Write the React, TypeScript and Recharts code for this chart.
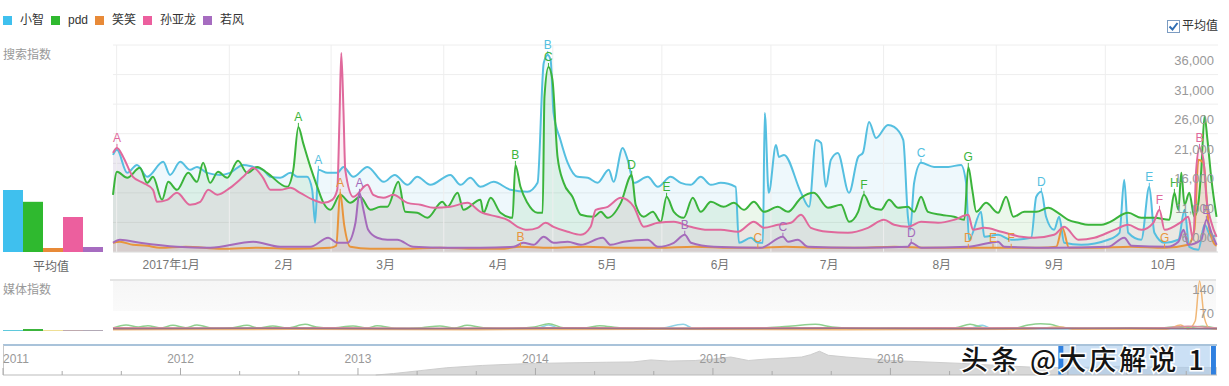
import React from "react";
import {
  ComposedChart,
  BarChart,
  Bar,
  Cell,
  Area,
  Line,
  XAxis,
  YAxis,
  CartesianGrid,
  ReferenceLine,
  ReferenceArea,
} from "recharts";

const FONT = "'Liberation Sans', Arial, 'Noto Sans CJK SC', sans-serif";

type Pt = [number, number, string?];

// day 0 = 2016-12-16
const seriesNames = ["小智", "pdd", "笑笑", "孙亚龙", "若风"];
const legendColors = ["#3fc0ee", "#2fb92f", "#e88a38", "#ec5f9e", "#a66cc0"];
const lineColors = ["#55bfe0", "#3bb43b", "#e8953d", "#e0699c", "#a56bbb"];

const monthDays = [16, 47, 75, 106, 136, 167, 197, 228, 259, 289];
const monthLabels = ["2017年1月", "2月", "3月", "4月", "5月", "6月", "7月", "8月", "9月", "10月"];
const gridDays = [1, 32, 60, 91, 121, 151, 181, 212, 243, 273];
const searchTicks = [6000, 11000, 16000, 21000, 26000, 31000, 36000];

const xiaozhi: Pt[] = [
  [0, 17420], [1.1, 18270], [3.9, 14380], [6.6, 15730], [9.4, 13710], [13.8, 16240], [15.7, 14040],
  [18.5, 16240], [21.2, 14890], [23.1, 15390], [25.9, 14380], [29.5, 14040], [32.2, 14380], [35.8, 15730],
  [38.6, 15390], [41.3, 14890], [43.3, 13710], [46, 13540], [48.8, 14380], [50.7, 13710], [53.4, 13710],
  [54.8, 11510], [55.6, 5940], [56.5, 14890, "A"], [59, 14380], [61.7, 14380], [63.4, 15390], [66.1, 13710],
  [70, 15390], [74.5, 12860], [77.5, 14040], [81, 12350], [83.7, 13710], [87.3, 12350], [92.8, 14040],
  [95.6, 12350], [98.3, 13540], [101.1, 12020], [104.7, 12860], [109.4, 11510], [114, 11170], [116.8, 12690],
  [118.5, 32960], [119.6, 34310, "B"], [120.4, 33470], [121.2, 24510], [123.1, 19950], [125.1, 16070],
  [127.8, 13710], [130.6, 13540], [133.3, 12690], [136.4, 14890], [137.7, 12860], [140.2, 18600],
  [141.6, 16580], [143.3, 12690], [147.1, 13710], [149.9, 12020], [153.4, 13710], [156.2, 12690],
  [158.9, 12350], [161.7, 13710], [164.5, 12350], [167.2, 12690], [171.3, 12020], [172.2, 2560],
  [175.5, 3400], [177.4, 2560], [178.8, 2560], [179.3, 24510], [180.4, 11000], [182.4, 19110],
  [183.2, 17080], [184.6, 17420], [189.3, 11000], [191.5, 8640], [193.4, 19950], [194.8, 19450],
  [196.1, 12020], [197.5, 16580], [199.4, 17760], [202.5, 11000], [205, 17080], [206.3, 17760],
  [208, 23000], [209.9, 20290], [213.2, 22490], [214.9, 22150], [217.4, 19950], [218.7, 6950],
  [219.3, 4750], [220.4, 12690], [222.3, 16070, "C"], [225.9, 15390], [229.8, 15390], [233.3, 15730],
  [234.7, 12690], [235.5, 3070], [238.8, 7790], [239.7, 3570], [243.5, 3910], [247.1, 3070], [252.6, 3400],
  [254, 10330], [255.4, 11170, "D"], [256.7, 6950], [258.9, 4750], [260.3, 6950], [261.7, 2560],
  [266.4, 2220], [273.8, 3070], [276.9, 4250], [278.2, 13200], [279.3, 4250], [282.9, 3070],
  [285.1, 12020, "E"], [286.5, 4250], [289.3, 2560], [293.1, 3070], [294.8, 8130], [296.1, 1880],
  [298.6, 1380], [300.3, 5600], [302.2, 3570], [303.6, 3910],
];

const pdd: Pt[] = [
  [0, 10670], [1.1, 14550], [3.9, 13540], [7.4, 15230], [9.4, 12690], [11, 13710], [13.5, 9820],
  [15.2, 12860], [17.6, 11510], [20.7, 14380], [23.1, 12860], [24.8, 16070], [26.7, 12690], [28.9, 14550],
  [31.4, 13540], [34.4, 16410], [36.9, 14380], [39.7, 15390], [42.4, 14380], [47.9, 12020], [49.6, 14890],
  [51, 22150, "A"], [52.3, 19450], [54.3, 15390], [56.2, 12020], [57.9, 9310], [59.8, 8130], [62.5, 10670],
  [65.3, 9310], [68, 10330], [70.8, 8130], [73.6, 8640], [75.5, 8640], [78.5, 12860], [80.4, 7790],
  [83.7, 7620], [86.5, 6780], [90.6, 9480], [92, 8640], [94.8, 11000], [96.4, 8130], [101.1, 9820],
  [101.9, 7620], [103.9, 10160], [106.6, 7620], [109.9, 6780], [110.7, 15730, "B"], [112.1, 12020],
  [114, 9310], [116.8, 7620], [118.2, 7620], [118.7, 27220], [119.8, 32280, "C"], [120.9, 30090],
  [122.3, 17080], [124, 12690], [126.4, 10330], [128.7, 7290], [132.2, 6950], [134.2, 7790], [136.1, 6780],
  [139.7, 9310], [142.7, 14040, "D"], [143.8, 8980], [146, 6950], [148.5, 7790], [150.7, 6100],
  [152.3, 10330, "E"], [154.3, 7790], [157, 6780], [159.5, 10160], [161.7, 7790], [164.5, 9480],
  [168, 8640], [170.8, 9310], [173.6, 8130], [176.3, 9480], [179.1, 7790], [182.9, 8640], [185.7, 7790],
  [189.3, 10160], [192.8, 11000], [196.7, 8470], [200.3, 8980], [202.5, 6100], [205, 7790],
  [206.6, 10670, "F"], [208.5, 8640], [211.3, 8130], [213.5, 9820], [216, 8470], [218.7, 8640],
  [220.4, 7790], [222.3, 10330], [224.2, 7790], [227.8, 7290], [231.4, 6950], [234.2, 6440],
  [235.3, 15390, "G"], [236.4, 11510], [237.5, 7790], [240.2, 9310], [243.5, 7620], [245.7, 10330],
  [247.7, 6950], [250.7, 7790], [254, 7790], [257.3, 8470], [260, 7620], [262.8, 6440], [265.6, 5940],
  [268.3, 5600], [271.9, 5600], [273.8, 5940], [279.3, 7620], [282.9, 6780], [286.5, 6780], [290.6, 6440],
  [292, 11000, "H"], [293.1, 8130], [293.9, 14380], [294.8, 8980], [296.1, 11000], [297.5, 6950],
  [298.6, 9310], [299.4, 14890], [300.3, 24000], [301.1, 19950], [302.2, 13200], [303.6, 6950],
];

const xiaoxiao: Pt[] = [
  [0, 2560], [1.9, 2730], [5.5, 2220], [9.4, 2050], [12.9, 1710], [20, 1880], [30, 1540], [40, 1710],
  [50, 1540], [59.8, 1710], [61.4, 2050], [62.5, 11000, "A"], [63.6, 5600], [65.3, 1880], [70.8, 1540],
  [80, 1540], [90, 1710], [100, 1540], [106.6, 1540], [112.1, 1880, "B"], [120, 1710], [130, 1880],
  [140, 1710], [150, 1710], [160, 1880], [170, 1710], [177.4, 1710, "C"], [185, 1880], [195, 1710],
  [205, 1710], [215, 1880], [225, 1710], [235.3, 1710, "D"], [242.1, 1710, "E"], [247.1, 1710, "F"],
  [255, 1710], [259.5, 1880], [261.2, 5090], [263, 1710], [270, 1710], [280, 1880], [289.3, 1710, "G"],
  [295.8, 2220], [297.5, 4750], [298.6, 16580], [300, 16070], [301.4, 5940], [302.8, 2560], [303.6, 2050],
];

const sunyalong: Pt[] = [
  [0, 17760], [1.1, 18600, "A"], [2.8, 17080], [5.5, 13710], [8.3, 12690], [11, 11510], [12.1, 9480],
  [14.9, 9820], [17.6, 11000], [21.2, 8980], [24, 9480], [26.2, 11510], [28.7, 10670], [32.2, 11850],
  [35.8, 13710], [38.6, 15230], [41.3, 13540], [43.3, 11510], [46, 11510], [48.8, 11850], [51.5, 11000],
  [55.1, 9820], [57.9, 9310], [60.3, 9820], [61.7, 11510], [62.3, 23330], [62.8, 34650], [63.4, 25020],
  [63.9, 14890], [66.1, 10330], [70, 12350], [71.6, 10670], [74.4, 10160], [77.1, 10670], [81, 9310],
  [84.6, 8980], [88.2, 8470], [92.8, 8640], [97.5, 9310], [101.1, 7790], [105.8, 6950], [108.5, 6440],
  [111.3, 5260], [114, 4750], [116.8, 5090], [119, 5940], [121.2, 5260], [125.1, 4420], [128.7, 3910],
  [131.4, 5260], [132.8, 8130], [136.1, 8640], [139.7, 10160], [143.3, 8640], [146, 5260], [149.9, 5940],
  [154.3, 6100], [158.9, 5260], [163.6, 4750], [167.2, 4750], [171.9, 4420], [176.3, 6100], [179.1, 5090],
  [182.9, 5600], [186.5, 5940], [189.3, 7290], [192, 5090], [196.7, 4420], [202.2, 4250], [207.7, 5090],
  [212.1, 6440], [214.9, 5600], [218.7, 5260], [222.3, 6100], [227, 5940], [231.4, 6440], [235.3, 7290],
  [236.6, 4750], [239.7, 5090], [244.4, 4420], [249.9, 3570], [253.4, 3400], [258.9, 3910], [261.7, 5260],
  [265.6, 3070], [270, 3400], [275.5, 4750], [279.3, 5600], [282.9, 4750], [286.2, 5940], [287.9, 8130, "F"],
  [289.3, 4750], [293.9, 6100], [295.8, 6950], [297.2, 3070], [298, 14890], [298.9, 18600, "B"],
  [300, 16580], [300.8, 10330], [302.2, 5940], [303.6, 3570],
];

const ruofeng: Pt[] = [
  [0, 2560], [1.9, 3070], [7.4, 2560], [17.6, 1880], [26.7, 1710], [38.6, 2730], [46, 1880], [54.3, 1880],
  [59.2, 3400], [61.7, 2560], [64.5, 2560], [66.7, 5940], [67.8, 11000, "A"], [68.9, 8130], [70.2, 4750],
  [72.7, 3400], [75.5, 3070], [78.2, 3070], [82.6, 1880], [92, 1710], [101.1, 1710], [110.2, 1880],
  [112.9, 2560], [115.7, 2220], [118.5, 3570], [121.2, 2560], [125.1, 2730], [128.7, 2220], [134.7, 3400],
  [136.9, 2220], [140.5, 2730], [147.1, 3070], [149.9, 1880], [154.3, 2560], [157.3, 3910, "B"], [159, 2560],
  [165.3, 1880], [178.2, 1710], [184.3, 3570, "C"], [185.7, 2730], [188.4, 3070], [191.2, 1880], [203.9, 1710],
  [218.7, 1880], [219.6, 2560, "D"], [222.3, 1710], [235.3, 1880], [243.5, 2730], [245.2, 1880], [258.9, 1710],
  [273.8, 1880], [278.2, 3400], [280.2, 2050], [290.1, 1880], [293.1, 2730], [294.5, 4750], [295.8, 2220],
  [299.4, 3070], [300.8, 6440, "E"], [302.2, 4250], [303.6, 2220],
];

const searchSeries = [xiaozhi, pdd, xiaoxiao, sunyalong, ruofeng];

// 平均值
const avgValues = [12000, 9700, 770, 6760, 970];
const mediaAvgValues = [3, 6, 2, 2, 2];
const mediaAvgColors = ["#5fc9dc", "#3cb43c", "#e8d060", "#a07f86", "#8c7f92"];

// 媒体指数
const mediaTicks = [70, 140];
const mediaXiaozhi: Pt[] = [
  [0, 6], [20, 7], [40, 9], [60, 6], [80, 8], [100, 6], [117, 9], [120, 18], [123, 8], [150, 7],
  [157, 20], [160, 7], [190, 6], [220, 7], [236, 9], [239.4, 17], [242, 7], [270, 6], [290, 7], [304, 6],
];
const mediaPdd: Pt[] = [
  [0, 9], [3.6, 18], [7, 12], [9.6, 16], [13, 9], [16.5, 17], [20, 10], [23.1, 18], [28, 8], [33, 10],
  [36.9, 17], [40, 9], [44, 15], [48, 9], [52.9, 20], [56, 12], [60, 9], [66.1, 15], [70, 9], [72.7, 16],
  [78, 8], [85, 10], [90, 15], [94, 9], [97.5, 17], [102, 10], [110, 8], [116, 12], [120, 22], [124, 10],
  [130, 9], [134, 16], [140, 9], [150, 8], [160, 9], [170, 8], [180, 10], [187, 15], [193.4, 20], [198, 12],
  [205, 8], [215, 9], [225, 8], [232, 10], [236, 20], [240, 10], [248, 8], [252, 18], [255.4, 22], [258, 20],
  [262, 10], [270, 8], [280, 9], [287, 8], [292, 12], [296, 10], [300, 14], [304, 8],
];
const mediaXiaoxiao: Pt[] = [
  [0, 4], [50, 5], [100, 4], [150, 5], [200, 4], [250, 5], [260.9, 12], [265, 5], [290, 5], [294, 18],
  [296, 6], [298, 30], [299.2, 150], [300.5, 40], [302, 8], [304, 5],
];
const mediaSunyalong: Pt[] = [
  [0, 10], [30, 9], [60, 10], [90, 8], [120, 10], [150, 9], [180, 10], [210, 9], [240, 10], [270, 9],
  [290, 10], [296, 14], [300, 12], [304, 9],
];
const mediaRuofeng: Pt[] = [
  [0, 7], [40, 8], [80, 7], [120, 8], [160, 7], [200, 8], [240, 7], [280, 8], [304, 7],
];
const mediaSeries = [mediaXiaozhi, mediaPdd, mediaXiaoxiao, mediaSunyalong, mediaRuofeng];
const mediaColors = ["#8fd3e6", "#8fd08f", "#f0b878", "#d8909f", "#9c7388"];

// 时间轴概览
const navYears = [2011, 2012, 2013, 2014, 2015, 2016, 2017];
const navYearLabels = ["2011", "2012", "2013", "2014", "2015", "2016", ""];
const navOverview: Pt[] = [
  [2013.1, 0], [2013.2, 5], [2013.35, 15], [2013.5, 25], [2013.7, 33], [2013.9, 38], [2014.0, 40],
  [2014.2, 42], [2014.4, 44], [2014.55, 45], [2014.65, 52], [2014.75, 48], [2014.9, 50], [2015.0, 55],
  [2015.1, 62], [2015.2, 50], [2015.3, 55], [2015.4, 58], [2015.5, 62], [2015.55, 70], [2015.6, 82],
  [2015.65, 68], [2015.75, 62], [2015.9, 55], [2016.0, 50], [2016.2, 45], [2016.4, 40], [2016.6, 33],
  [2016.8, 27], [2017.0, 25], [2017.3, 30], [2017.5, 27], [2017.84, 25],
];
const selStart = 2016.96;
const selEnd = 2017.8;

const toRows = (pts: Pt[]) => pts.map(([d, v, m]) => ({ d, v, m }));
const fmtNum = (v: number) => v.toLocaleString("en-US");

const navTicks = navYears.flatMap((y) => [y, y + 1 / 3, y + 2 / 3]).filter((t) => t <= 2017.84);

function markDot(color: string) {
  return (p: any) => {
    const { cx, cy, payload, index } = p;
    if (!payload || !payload.m || cx == null || cy == null) return <g key={index} />;
    return (
      <g key={index}>
        <line x1={cx} x2={cx} y1={cy} y2={cy - 4} stroke={color} strokeWidth={1} />
        <text x={cx} y={cy - 6} textAnchor="middle" fill={color} fontSize={12} fontFamily={FONT}>
          {payload.m}
        </text>
      </g>
    );
  };
}

function RightTick(p: any) {
  const { x, y, payload, off } = p;
  return (
    <text x={x} y={y + off} textAnchor="end" fill="#999" fontSize={13} fontFamily={FONT}>
      {fmtNum(payload.value)}
    </text>
  );
}

function NavTick(p: any) {
  const { x, y, payload } = p;
  const idx = navYears.findIndex((yy) => Math.abs(yy - payload.value) < 1e-6);
  const isYear = idx >= 0;
  return (
    <g>
      <line x1={x} x2={x} y1={y} y2={y - (isYear ? 7 : 4)} stroke="#aaa" />
      {isYear && navYearLabels[idx] && (
        <text x={x} y={y - 12} textAnchor={idx === 0 ? "start" : "middle"} fill="#999" fontSize={12} fontFamily={FONT}>
          {navYearLabels[idx]}
        </text>
      )}
    </g>
  );
}

const textStyle: React.CSSProperties = { position: "absolute", fontSize: 12, lineHeight: "14px", whiteSpace: "nowrap" };

export default function App() {
  const avgData = avgValues.map((v, i) => ({ name: seriesNames[i], v }));
  const mediaAvgData = mediaAvgValues.map((v, i) => ({ name: seriesNames[i], v }));

  return (
    <div style={{ position: "absolute", left: 0, top: 0, width: 1229, height: 386, background: "#fff", fontFamily: FONT, overflow: "hidden" }}>
      {/* legend */}
      <div style={{ position: "absolute", left: 3, top: 13, display: "flex", alignItems: "center", fontSize: 12, color: "#333" }}>
        {seriesNames.map((n, i) => (
          <div key={n} style={{ display: "flex", alignItems: "center", marginRight: 7 }}>
            <span style={{ width: 9, height: 9, background: legendColors[i], marginRight: 8, display: "inline-block" }} />
            <span style={{ lineHeight: "14px" }}>{n}</span>
          </div>
        ))}
      </div>

      {/* 平均值 checkbox */}
      <div style={{ position: "absolute", left: 1167, top: 19, display: "flex", alignItems: "center", fontSize: 12, color: "#333" }}>
        <svg width={13} height={13} style={{ marginRight: 2 }}>
          <rect x={0.5} y={0.5} width={12} height={12} fill="#fff" stroke="#7c9cc2" />
          <path d="M2.5 6.5 L5.5 9.5 L10.5 3" fill="none" stroke="#2f6db3" strokeWidth={2} />
        </svg>
        <span style={{ lineHeight: "14px" }}>平均值</span>
      </div>

      <div style={{ ...textStyle, left: 3, top: 48, color: "#999" }}>搜索指数</div>

      {/* average bars */}
      <div style={{ position: "absolute", left: 0, top: 0 }}>
        <BarChart width={106} height={252} data={avgData} margin={{ top: 45, right: 3, left: 3, bottom: 0 }} barCategoryGap={0}>
          <XAxis dataKey="name" hide />
          <YAxis hide domain={[0, 40000]} />
          <Bar dataKey="v" isAnimationActive={false}>
            {avgData.map((d, i) => (
              <Cell key={d.name} fill={legendColors[i]} />
            ))}
          </Bar>
        </BarChart>
      </div>
      <div style={{ ...textStyle, left: 33, top: 260, color: "#666" }}>平均值</div>

      {/* search index chart */}
      <div style={{ position: "absolute", left: 0, top: 0 }}>
        <ComposedChart width={1229} height={280} margin={{ top: 45, right: 11, left: 113, bottom: 0 }}>
          <CartesianGrid vertical={false} stroke="#eeeeee" />
          <XAxis
            type="number"
            dataKey="d"
            domain={[0, 304]}
            ticks={monthDays}
            interval={0}
            tickFormatter={(v) => monthLabels[monthDays.indexOf(v)] ?? ""}
            axisLine={{ stroke: "#e2e2e2" }}
            tickLine={false}
            tick={{ fontSize: 12, fill: "#777", fontFamily: FONT }}
            height={28}
          />
          <YAxis
            type="number"
            orientation="right"
            mirror
            width={1}
            domain={[1000, 36000]}
            ticks={searchTicks}
            interval={0}
            axisLine={false}
            tickLine={false}
            tickSize={0}
            tickMargin={4}
            tick={(p: any) => <RightTick {...p} off={20} />}
          />
          {gridDays.map((d) => (
            <ReferenceLine key={"g" + d} x={d} stroke="#eeeeee" />
          ))}
          {searchSeries.map((s, i) => (
            <Area
              key={"a" + i}
              data={toRows(s)}
              dataKey="v"
              type="monotone"
              fill={lineColors[i]}
              fillOpacity={0.1}
              stroke="none"
              isAnimationActive={false}
              activeDot={false}
            />
          ))}
          {searchSeries.map((s, i) => (
            <Line
              key={"l" + i}
              data={toRows(s)}
              dataKey="v"
              name={seriesNames[i]}
              type="monotone"
              stroke={lineColors[i]}
              strokeWidth={2}
              dot={markDot(lineColors[i])}
              activeDot={false}
              isAnimationActive={false}
            />
          ))}
        </ComposedChart>
      </div>

      {/* media index */}
      <div style={{ position: "absolute", left: 110, top: 279, width: 1106, height: 2, background: "#e4e4e4" }} />
      <div style={{ position: "absolute", left: 113, top: 281, width: 1103, height: 30, background: "linear-gradient(#f6f6f6, #fafafa)" }} />
      <div style={{ ...textStyle, left: 3, top: 283, color: "#999" }}>媒体指数</div>
      <div style={{ position: "absolute", left: 0, top: 276 }}>
        <BarChart width={106} height={55} data={mediaAvgData} margin={{ top: 5, right: 3, left: 3, bottom: 0 }} barCategoryGap={0}>
          <XAxis dataKey="name" hide />
          <YAxis hide domain={[0, 150]} />
          <Bar dataKey="v" isAnimationActive={false}>
            {mediaAvgData.map((d, i) => (
              <Cell key={d.name} fill={mediaAvgColors[i]} />
            ))}
          </Bar>
        </BarChart>
      </div>
      <div style={{ position: "absolute", left: 0, top: 276 }}>
        <ComposedChart width={1229} height={55} margin={{ top: 5, right: 12, left: 113, bottom: 0 }}>
          <XAxis type="number" dataKey="d" domain={[0, 304]} hide />
          <YAxis
            type="number"
            orientation="right"
            mirror
            width={1}
            domain={[0, 150]}
            ticks={mediaTicks}
            interval={0}
            axisLine={false}
            tickLine={false}
            tickSize={0}
            tickMargin={3}
            tick={(p: any) => <RightTick {...p} off={10} />}
          />
          {mediaSeries.map((s, i) => (
            <Line
              key={"m" + i}
              data={toRows(s)}
              dataKey="v"
              type="monotone"
              stroke={mediaColors[i]}
              strokeWidth={1.5}
              dot={false}
              activeDot={false}
              isAnimationActive={false}
            />
          ))}
        </ComposedChart>
      </div>

      {/* navigator */}
      <div style={{ position: "absolute", left: 3, top: 344, width: 1214, height: 2, background: "#a9c3da" }} />
      <div style={{ position: "absolute", left: 3, top: 345, width: 1, height: 30, background: "#c8c8c8" }} />
      <div style={{ position: "absolute", left: 0, top: 340 }}>
        <ComposedChart width={1229} height={36} margin={{ top: 6, right: 12, left: 3, bottom: 0 }}>
          <XAxis
            type="number"
            dataKey="d"
            domain={[2011, 2017.84]}
            allowDataOverflow
            ticks={navTicks}
            interval={0}
            height={1}
            tickSize={0}
            tickMargin={0}
            tickLine={false}
            axisLine={{ stroke: "#bbb" }}
            tick={(p: any) => <NavTick {...p} />}
          />
          <YAxis hide domain={[0, 100]} />
          <Area
            data={toRows(navOverview)}
            dataKey="v"
            type="linear"
            fill="#d8d8d8"
            fillOpacity={1}
            stroke="#cdcdcd"
            strokeWidth={1}
            isAnimationActive={false}
            activeDot={false}
          />
          <ReferenceArea x1={selStart} x2={selEnd} fill="#a8cbef" fillOpacity={0.6} stroke="none" />
          <ReferenceLine x={selStart} stroke="#2f80e0" strokeWidth={5} />
          <ReferenceLine x={selEnd + 0.02} stroke="#2f80e0" strokeWidth={5} />
        </ComposedChart>
      </div>

      {/* watermark */}
      <svg width={1229} height={386} style={{ position: "absolute", left: 0, top: 0, pointerEvents: "none" }}>
        <text
          x={961}
          y={370}
          fontSize={27}
          letterSpacing={3}
          fill="#141414"
          stroke="#ffffff"
          strokeWidth={3}
          paintOrder="stroke"
          fontFamily="'Noto Sans CJK SC', sans-serif"
          fontWeight={500}
        >
          头条 @大庆解说 1
        </text>
      </svg>
    </div>
  );
}
